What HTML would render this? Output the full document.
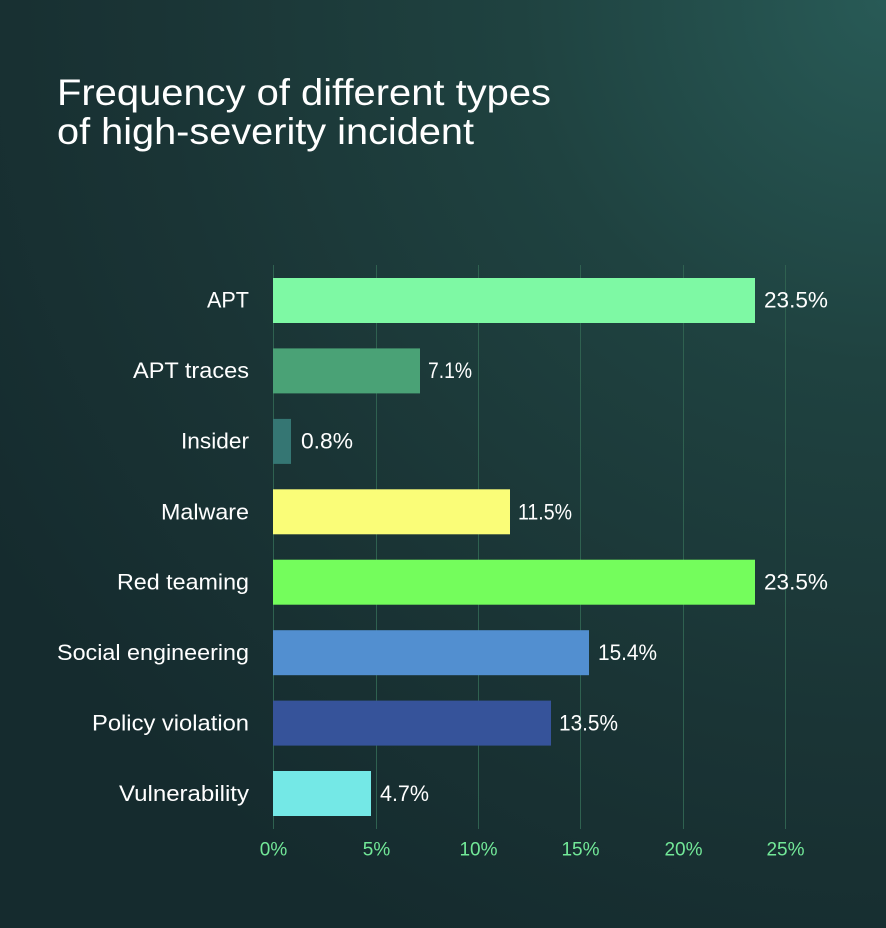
<!DOCTYPE html>
<html>
<head>
<meta charset="utf-8">
<style>
  html, body { margin: 0; padding: 0; }
  body { width: 886px; height: 928px; overflow: hidden; background: #1b3536; }
  svg { display: block; }
  text { font-family: "Liberation Sans", sans-serif; }
</style>
</head>
<body>
<svg width="886" height="928" viewBox="0 0 886 928" xmlns="http://www.w3.org/2000/svg">
  <defs>
    <radialGradient id="bg" cx="886" cy="0" r="1050" gradientUnits="userSpaceOnUse">
      <stop offset="0" stop-color="#285a56"/>
      <stop offset="0.35" stop-color="#1f4240"/>
      <stop offset="0.7" stop-color="#1a3435"/>
      <stop offset="1" stop-color="#152b2e"/>
    </radialGradient>
  </defs>
  <rect x="0" y="0" width="886" height="928" fill="url(#bg)"/>

  <!-- Title -->
  <text x="57" y="105" font-size="37" fill="#ffffff" textLength="494" lengthAdjust="spacingAndGlyphs">Frequency of different types</text>
  <text x="57" y="144" font-size="37" fill="#ffffff" textLength="417" lengthAdjust="spacingAndGlyphs">of high-severity incident</text>

  <!-- Grid lines -->
  <g stroke="#2f6150" stroke-width="1">
    <line x1="273.5" y1="265" x2="273.5" y2="829"/>
    <line x1="376.5" y1="265" x2="376.5" y2="829"/>
    <line x1="478.5" y1="265" x2="478.5" y2="829"/>
    <line x1="580.5" y1="265" x2="580.5" y2="829"/>
    <line x1="683.5" y1="265" x2="683.5" y2="829"/>
    <line x1="785.5" y1="265" x2="785.5" y2="829"/>
  </g>

  <!-- Bars -->
  <rect x="273" y="278" width="482" height="45" fill="#7ef9a4"/>
  <rect x="273" y="348.4" width="147" height="45" fill="#4aa276"/>
  <rect x="273" y="418.9" width="18" height="45" fill="#357673"/>
  <rect x="273" y="489.3" width="237" height="45" fill="#fafd78"/>
  <rect x="273" y="559.7" width="482" height="45" fill="#74fd5c"/>
  <rect x="273" y="630.2" width="316" height="45" fill="#528fd0"/>
  <rect x="273" y="700.6" width="278" height="45" fill="#36539a"/>
  <rect x="273" y="771" width="98" height="45" fill="#74e8e6"/>

  <!-- Category labels -->
  <g font-size="22" fill="#ffffff" text-anchor="end">
    <text x="249" y="307.5" textLength="42" lengthAdjust="spacingAndGlyphs">APT</text>
    <text x="249" y="378" textLength="116" lengthAdjust="spacingAndGlyphs">APT traces</text>
    <text x="249" y="448.5" textLength="68" lengthAdjust="spacingAndGlyphs">Insider</text>
    <text x="249" y="519.5" textLength="88" lengthAdjust="spacingAndGlyphs">Malware</text>
    <text x="249" y="589.5" textLength="132" lengthAdjust="spacingAndGlyphs">Red teaming</text>
    <text x="249" y="660" textLength="192" lengthAdjust="spacingAndGlyphs">Social engineering</text>
    <text x="249" y="730.5" textLength="157" lengthAdjust="spacingAndGlyphs">Policy violation</text>
    <text x="249" y="801" textLength="130" lengthAdjust="spacingAndGlyphs">Vulnerability</text>
  </g>

  <!-- Value labels -->
  <g font-size="22" fill="#ffffff">
    <text x="764" y="307.5" textLength="64" lengthAdjust="spacingAndGlyphs">23.5%</text>
    <text x="428" y="378" textLength="44" lengthAdjust="spacingAndGlyphs">7.1%</text>
    <text x="301" y="448.5" textLength="52" lengthAdjust="spacingAndGlyphs">0.8%</text>
    <text x="518" y="519.5" textLength="54" lengthAdjust="spacingAndGlyphs">11.5%</text>
    <text x="764" y="589.5" textLength="64" lengthAdjust="spacingAndGlyphs">23.5%</text>
    <text x="598" y="660" textLength="59" lengthAdjust="spacingAndGlyphs">15.4%</text>
    <text x="559" y="730.5" textLength="59" lengthAdjust="spacingAndGlyphs">13.5%</text>
    <text x="380" y="801" textLength="49" lengthAdjust="spacingAndGlyphs">4.7%</text>
  </g>

  <!-- Axis tick labels -->
  <g font-size="19" fill="#72e898" text-anchor="middle">
    <text x="273.5" y="855.5">0%</text>
    <text x="376.5" y="855.5">5%</text>
    <text x="478.5" y="855.5">10%</text>
    <text x="580.5" y="855.5">15%</text>
    <text x="683.5" y="855.5">20%</text>
    <text x="785.5" y="855.5">25%</text>
  </g>
</svg>
</body>
</html>
